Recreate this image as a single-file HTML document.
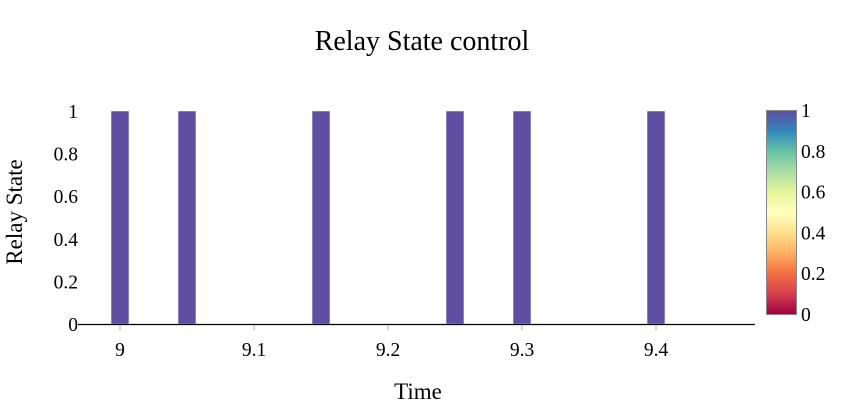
<!DOCTYPE html>
<html><head><meta charset="utf-8"><style>
html,body{margin:0;padding:0;background:#fff;}
svg text{font-family:"Liberation Serif",serif;fill:#000;}
</style></head><body>
<svg id="chart" width="844" height="404" xmlns="http://www.w3.org/2000/svg">
<defs>
<linearGradient id="spectral" x1="0" y1="1" x2="0" y2="0">
<stop offset="0" stop-color="#9e0142"/><stop offset="0.1" stop-color="#d53e4f"/>
<stop offset="0.2" stop-color="#f46d43"/><stop offset="0.3" stop-color="#fdae61"/>
<stop offset="0.4" stop-color="#fee08b"/><stop offset="0.5" stop-color="#ffffbf"/>
<stop offset="0.6" stop-color="#e6f598"/><stop offset="0.7" stop-color="#abdda4"/>
<stop offset="0.8" stop-color="#66c2a5"/><stop offset="0.9" stop-color="#3288bd"/>
<stop offset="1" stop-color="#5e4fa2"/>
</linearGradient>
</defs>
<text x="422" y="50" text-anchor="middle" font-size="28">Relay State control</text>
<g id="plot"></g>
<text x="418" y="399" text-anchor="middle" font-size="23">Time</text>
<text transform="translate(22,212) rotate(-90)" text-anchor="middle" font-size="23">Relay State</text>
<g>
<rect x="766.5" y="110.5" width="30" height="204" fill="url(#spectral)" stroke="#888" stroke-width="1"/>
<g id="cbticks"></g>
</g>
</svg>
<script>
const times = [9, 9.05, 9.15, 9.25, 9.3, 9.4];
const states = [1, 1, 1, 1, 1, 1];
const xTicks = [9, 9.1, 9.2, 9.3, 9.4];
const yTicks = [0, 0.2, 0.4, 0.6, 0.8, 1];
const cbTicks = [0, 0.2, 0.4, 0.6, 0.8, 1];

const NS = "http://www.w3.org/2000/svg";
const X0 = 78, X1 = 755, Y0 = 324, Y1 = 111;
const xMin = 9 - 42/1340, xMax = 9 + 635/1340;
const xs = v => X0 + (v - xMin) / (xMax - xMin) * (X1 - X0);
const ys = v => Y0 - v * (Y0 - Y1);
const barW = 0.0134 / (xMax - xMin) * (X1 - X0);
const plot = document.getElementById('plot');
function mk(tag, attrs, parent) {
  const e = document.createElementNS(NS, tag);
  for (const k in attrs) e.setAttribute(k, attrs[k]);
  parent.appendChild(e);
  return e;
}
times.forEach((t, i) => {
  const r = mk('rect', {x: xs(t) - barW/2, y: ys(states[i]), width: barW, height: Y0 - ys(states[i]), fill: '#5e4fa2', stroke: '#fff', 'stroke-width': 0.5}, plot);
  
  
});
const ax = mk('line', {x1: X0, x2: X1, y1: Y0 + 0.5, y2: Y0 + 0.5, stroke: '#000', 'stroke-width': 1.2}, plot);


xTicks.forEach(t => {
  const tk = mk('line', {x1: xs(t), x2: xs(t), y1: Y0 + 1, y2: Y0 + 6, stroke: '#aaa'}, plot);
  
  
  const tx = mk('text', {x: xs(t), y: 356, 'text-anchor': 'middle', 'font-size': 19.5}, plot);
  tx.textContent = String(t);
  
  
});
yTicks.forEach(v => {
  const tx = mk('text', {x: 78, y: ys(v) + 7, 'text-anchor': 'end', 'font-size': 19.5}, plot);
  tx.textContent = String(v);
  
  
});
const cb = document.getElementById('cbticks');
cbTicks.forEach(v => {
  const tx = mk('text', {x: 801, y: 314 - v * 204 + 7, 'font-size': 19.5}, cb);
  tx.textContent = String(v);
  
  
});
</script>
</body></html>
